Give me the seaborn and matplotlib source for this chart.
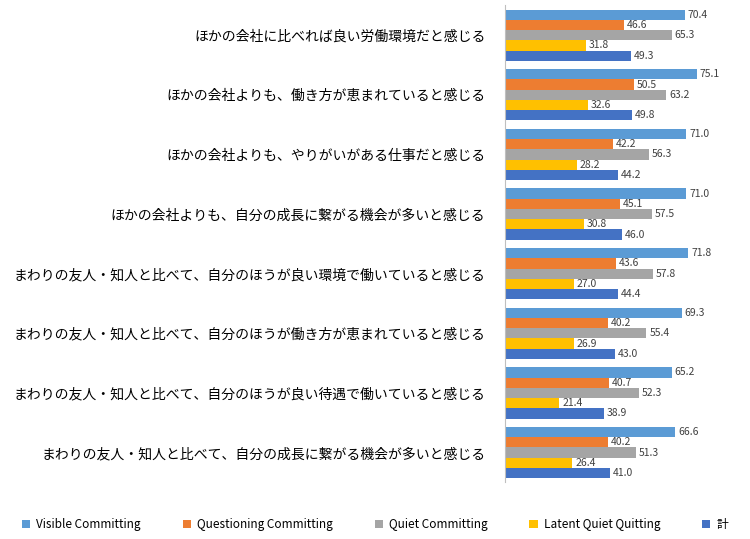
import matplotlib
matplotlib.use('Agg')
import matplotlib.pyplot as plt
import pandas as pd
import seaborn as sns

plt.rcParams['font.family'] = 'Noto Sans CJK JP'

CATEGORIES = [
    'ほかの会社に比べれば良い労働環境だと感じる',
    'ほかの会社よりも、働き方が恵まれていると感じる',
    'ほかの会社よりも、やりがいがある仕事だと感じる',
    'ほかの会社よりも、自分の成長に繋がる機会が多いと感じる',
    'まわりの友人・知人と比べて、自分のほうが良い環境で働いていると感じる',
    'まわりの友人・知人と比べて、自分のほうが働き方が恵まれていると感じる',
    'まわりの友人・知人と比べて、自分のほうが良い待遇で働いていると感じる',
    'まわりの友人・知人と比べて、自分の成長に繋がる機会が多いと感じる',
]
SERIES = ['Visible Committing', 'Questioning Committing', 'Quiet Committing',
          'Latent Quiet Quitting', '計']
VISIBLE = [70.4, 75.1, 71.0, 71.0, 71.8, 69.3, 65.2, 66.6]
QUESTIONING = [46.6, 50.5, 42.2, 45.1, 43.6, 40.2, 40.7, 40.2]
QUIET = [65.3, 63.2, 56.3, 57.5, 57.8, 55.4, 52.3, 51.3]
LATENT = [31.8, 32.6, 28.2, 30.8, 27.0, 26.9, 21.4, 26.4]
TOTAL = [49.3, 49.8, 44.2, 46.0, 44.4, 43.0, 38.9, 41.0]
COLORS = ['#5B9BD5', '#ED7D31', '#A5A5A5', '#FFC000', '#4472C4']

rows = []
for name, vals in zip(SERIES, [VISIBLE, QUESTIONING, QUIET, LATENT, TOTAL]):
    for cat, v in zip(CATEGORIES, vals):
        rows.append({'category': cat, 'series': name, 'value': v})
df = pd.DataFrame(rows)

fig = plt.figure(figsize=(7.5, 5.39), dpi=100)
ax = fig.add_axes([0.673, 0.105, 0.307, 0.885])
sns.barplot(data=df, y='category', x='value', hue='series', palette=COLORS,
            order=CATEGORIES, hue_order=SERIES, orient='h', width=0.86,
            saturation=1, ax=ax, legend=True)
for c in ax.containers:
    ax.bar_label(c, fmt='%.1f', padding=2, fontsize=7.5, color='#404040')
ax.set_xlim(0, 90)
ax.set_ylim(len(CATEGORIES) - 0.5, -0.5)
ax.set_xlabel('')
ax.set_ylabel('')
ax.set_xticks([])
ax.tick_params(axis='y', length=0, labelsize=10, pad=14)
for s in ['top', 'right', 'bottom']:
    ax.spines[s].set_visible(False)
ax.spines['left'].set_color('#BFBFBF')
ax.legend_.remove()
handles, labels = ax.get_legend_handles_labels()
fig.legend(handles, labels, loc='lower left', ncol=5, frameon=False,
           fontsize=8.5, handlelength=0.7, handleheight=0.7,
           handletextpad=0.5, mode='expand',
           bbox_to_anchor=(0.015, -0.005, 0.97, 0.05))
fig.savefig('out.png', dpi=100)
